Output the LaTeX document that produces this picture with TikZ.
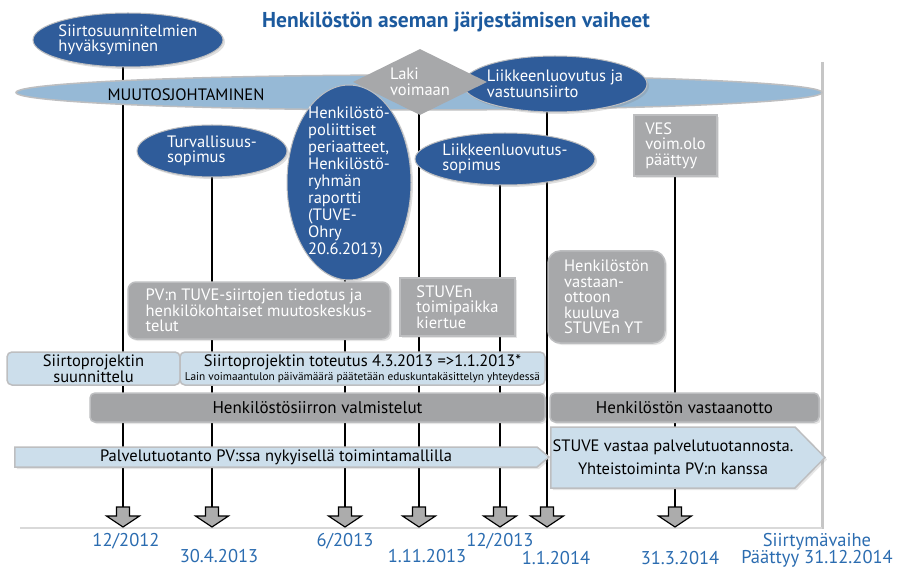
\documentclass[tikz,border=0pt]{standalone}
\usepackage{fontspec}
\setmainfont{PT Sans}
\newfontfamily\titlefont{PT Sans}
\usepackage{tikz}
\usetikzlibrary{arrows,shapes,shapes.symbols,shapes.geometric}
\usetikzlibrary{backgrounds,shadows}
\definecolor{bubbleblue}{HTML}{2F5C9A}
\definecolor{lightblue}{HTML}{CCDEEB}
\definecolor{midblue}{HTML}{96B9D6}
\definecolor{boxgray}{HTML}{A7A8AA}
\definecolor{bandgray}{HTML}{A3A4A6}
\definecolor{edgegray}{HTML}{BDBEC0}
\definecolor{datecol}{HTML}{2B6CB0}
\definecolor{titlecol}{HTML}{1C5A9E}

\begin{document}
\begin{tikzpicture}[x=1pt,y=-1pt,% one unit is one pixel of the slide, y runs downwards
		every node/.style={
			align=left,		% so that "\\" breaks the lines
			inner sep=0pt,
			font=\fontsize{16.5}{15.5}\selectfont
		},
		bubble/.style={ellipse,fill=bubbleblue,draw=edgegray,line width=1pt,text=white,inner sep=-25pt,
			drop shadow={opacity=.25,shadow xshift=2pt,shadow yshift=-2pt}},
		graybox/.style={rectangle,fill=boxgray,draw=edgegray,line width=1.5pt,text=white,
			drop shadow={opacity=.2,shadow xshift=2pt,shadow yshift=-2pt}},
		blueband/.style={rectangle,rounded corners=5pt,fill=lightblue,draw=edgegray,line width=1.5pt,align=center},
		grayband/.style={rectangle,rounded corners=5pt,fill=bandgray,draw=edgegray,line width=1.5pt,align=center,
			font=\fontsize{17}{17}\selectfont,drop shadow={opacity=.2,shadow xshift=2pt,shadow yshift=-2pt}},
		flow/.style={signal,signal to=east,fill=lightblue,draw=edgegray,line width=1.5pt,align=center,
			drop shadow={opacity=.2,shadow xshift=2pt,shadow yshift=-2pt}},
		downarrow/.style={draw=black,line width=1.2pt,fill=gray!65,line join=miter},
		datum/.style={text=datecol,align=center,font=\fontsize{18.5}{17}\selectfont},
		every edge/.style={draw,line width=2pt}
	]
	\useasboundingbox (0,0) rectangle (899,569);
	\node[text=titlecol,font=\titlefont\bfseries\fontsize{21.5}{24}\selectfont](T) at (456,22) {Henkilöstön aseman järjestämisen vaiheet};

	% ellipses and the diamond along the top
	\node[ellipse,fill=midblue,draw=edgegray,line width=1.5pt,minimum width=806,minimum height=35](M) at (419,92.5) {};
	\node[](MT) at (186,95) {MUUTOSJOHTAMINEN};
	\node[bubble,minimum width=190,minimum height=54](E1) at (128,40) {Siirtosuunnitelmien\\hyväksyminen};
	\node[bubble,minimum width=150,minimum height=52](E2) at (212,151) {Turvallisuus-\\sopimus};
	\node[bubble,minimum width=184,minimum height=56](E4) at (555,84) {Liikkeenluovutus ja\\vastuunsiirto};
	\node[diamond,aspect=2,inner sep=-5pt,fill=boxgray,text=white,minimum width=134,minimum height=66](L) at (420,82) {Laki\\voimaan};
	\node[bubble,minimum width=180,minimum height=52](E5) at (505,159) {Liikkeenluovutus-\\sopimus};
	\node[bubble,minimum width=124,minimum height=195,font=\fontsize{16.5}{17}\selectfont](E3) at (349,182.5)
		{Henkilöstö-\\poliittiset\\periaatteet,\\Henkilöstö-\\ryhmän\\raportti\\(TUVE-\\Ohry\\20.6.2013)};

	% gray boxes
	\node[graybox,minimum width=83,minimum height=61](B4) at (675.5,145.5) {VES\\voim.olo\\päättyy};
	\node[graybox,rounded corners=8pt,minimum width=262,minimum height=57](B1) at (259,310.5)
		{PV:n TUVE-siirtojen tiedotus ja\\henkilökohtaiset muutoskeskus-\\telut};
	\node[graybox,minimum width=115,minimum height=58](B2) at (457.5,307) {STUVEn\\toimipaikka\\kiertue};
	\node[graybox,rounded corners=12pt,minimum width=117,minimum height=92](B3) at (606.5,297)
		{Henkilöstön\\vastaan-\\ottoon\\kuuluva\\STUVEn YT};

	% bands
	\node[blueband,minimum width=173,minimum height=33,font=\fontsize{16.5}{15.5}\selectfont](S1) at (93.5,368.5) {Siirtoprojektin\\suunnittelu};
	\node[blueband,minimum width=365,minimum height=33,font=\fontsize{16.5}{14}\selectfont](S2) at (362.5,368.5)
		{Siirtoprojektin toteutus 4.3.2013 =>1.1.2013*\\{\fontsize{11.3}{12}\selectfont Lain voimaantulon päivämäärä päätetään eduskuntakäsittelyn yhteydessä}};
	\node[grayband,minimum width=455,minimum height=29](H1) at (317.5,407.5) {Henkilöstösiirron valmistelut};
	\node[grayband,minimum width=269,minimum height=29](H2) at (684.5,407.5) {Henkilöstön vastaanotto};
	\node[flow,signal pointer angle=80,minimum width=534,minimum height=20](P1) at (276,457)
		{Palvelutuotanto PV:ssa nykyisellä toimintamallilla};
	\node[flow,signal pointer angle=91,minimum width=274,minimum height=61,font=\fontsize{16.5}{23}\selectfont](P2) at (673,457.5)
		{STUVE vastaa palvelutuotannosta.\\Yhteistoiminta PV:n kanssa};

	% timeline arrows and dates
	\foreach \n/\x in {1/123,2/212,3/345,4/419,5/500,6/547,7/675}{
		\coordinate (A\n) at (\x,507);
		\draw[downarrow] (A\n) ++(-6.5,0) -- ++(0,9) -- ++(-10,0) -- ++(16.5,11) -- ++(16.5,-11) -- ++(-10,0) -- ++(0,-9) -- cycle;
	}
	\node[datum](D1) at (126,541) {12/2012};
	\node[datum](D2) at (219,556) {30.4.2013};
	\node[datum](D3) at (345,541) {6/2013};
	\node[datum](D4) at (427,556) {1.11.2013};
	\node[datum](D5) at (500,541) {12/2013};
	\node[datum](D6) at (556,558) {1.1.2014};
	\node[datum](D7) at (680,558) {31.3.2014};
	\node[datum](D8) at (817,550) {Siirtymävaihe\\Päättyy 31.12.2014};

	\begin{scope}[on background layer]
		\draw[line width=3pt,color=gray!45] (822,62) -- (822,529);
		\draw[line width=2pt,color=gray!30] (20,528) -- (822,528);
		\path
		(A1 |- E1)edge []	(A1)
		(A2 |- E2)edge []	(A2)
		(A3 |- E3)edge []	(A3)
		(A4 |- L)edge []	(A4)
		(A5 |- E5)edge []	(A5)
		(A6 |- E4)edge []	(A6)
		(A7 |- B4)edge []	(A7)
		;
	\end{scope}
\end{tikzpicture}
\end{document}
